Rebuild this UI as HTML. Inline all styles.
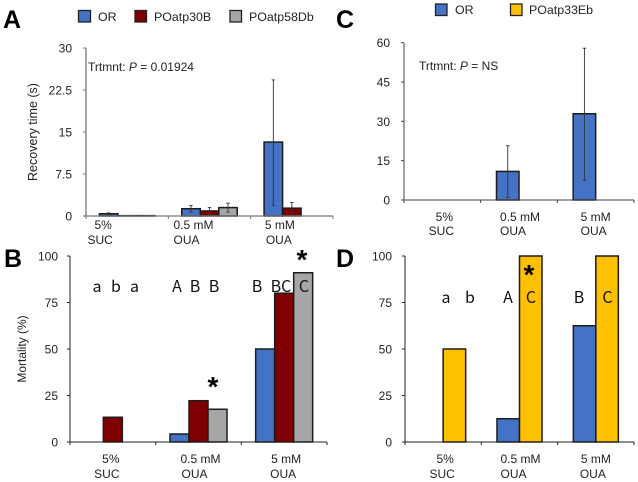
<!DOCTYPE html>
<html>
<head>
<meta charset="utf-8">
<style>
html,body{margin:0;padding:0;background:#fff}
svg{display:block;font-family:"Liberation Sans",Arial,sans-serif;fill:#222}
</style>
</head>
<body>
<svg id="fig" width="638" height="482" viewBox="0 0 638 482" xmlns="http://www.w3.org/2000/svg">
<rect x="0" y="0" width="638" height="482" fill="#fff" stroke="none"/>

<g font-weight="bold" font-size="25" fill="#000">
<text x="3" y="28">A</text>
<text x="4" y="267">B</text>
<text x="336" y="28">C</text>
<text x="336" y="267">D</text>
</g>

<g font-size="12.4">
<rect x="78.5" y="10.5" width="12" height="11.5" fill="#4472c4" stroke="#222" stroke-width="1.3"/>
<text x="98" y="21">OR</text>
<rect x="135" y="10.5" width="11.5" height="11.5" fill="#7f0000" stroke="#222" stroke-width="1.3"/>
<text x="154" y="21">POatp30B</text>
<rect x="230" y="10.5" width="11.5" height="11.5" fill="#a6a6a6" stroke="#222" stroke-width="1.3"/>
<text x="249" y="21">POatp58Db</text>
</g>
<g font-size="12.4">
<rect x="435.5" y="4" width="11.5" height="11.5" fill="#4472c4" stroke="#222" stroke-width="1.3"/>
<text x="455" y="14">OR</text>
<rect x="510.5" y="4" width="11.5" height="11.5" fill="#ffc000" stroke="#222" stroke-width="1.3"/>
<text x="529" y="14">POatp33Eb</text>
</g>

<text transform="translate(37,132) rotate(-90)" text-anchor="middle" font-size="12.5">Recovery time (s)</text>
<text transform="translate(26,349) rotate(-90)" text-anchor="middle" font-size="12">Mortality (%)</text>

<text x="88" y="71" font-size="12">Trtmnt: <tspan font-style="italic">P</tspan> = 0.01924</text>
<text x="419" y="70" font-size="12">Trtmnt: <tspan font-style="italic">P</tspan> = NS</text>

<g id="charts"></g>

<g font-family="'Noto Sans CJK JP','Liberation Sans',sans-serif" font-size="16" text-anchor="middle" fill="#111" id="letters">
<text x="97" y="292">a</text>
<text x="116" y="292">b</text>
<text x="134.5" y="292">a</text>
<text x="177" y="292">A</text>
<text x="195" y="292">B</text>
<text x="214" y="292">B</text>
<text x="257" y="292">B</text>
<text x="281" y="292">BC</text>
<text x="304" y="292">C</text>
<text x="446" y="303">a</text>
<text x="470" y="303">b</text>
<text x="508" y="303">A</text>
<text x="531" y="303">C</text>
<text x="579" y="303">B</text>
<text x="607.5" y="303">C</text>
</g>
<g font-weight="bold" font-size="28" text-anchor="middle" fill="#000">
<text x="213" y="396">*</text>
<text x="302" y="269">*</text>
<text x="529" y="284">*</text>
</g>
</svg>

<script>
// ---- data ----
const groupsTop = ["5%", "0.5 mM", "5 mM"];
const groupsBottom = ["SUC", "OUA", "OUA"];

const ticksRecoveryA = ["0", "7.5", "15", "22.5", "30"];
const ticksRecoveryC = ["0", "15", "30", "45", "60"];
const ticksMortality = ["0", "25", "50", "75", "100"];

const aOR = [0.4, 1.3, 13.2];
const aOatp30B = [0.06, 0.9, 1.4];
const aOatp58Db = [0.06, 1.5, 0];
const aORHigh = [0.55, 1.9, 24.3];
const aORLow = [0.25, 0.7, 1.9];
const a30BHigh = [0.08, 1.5, 2.4];
const a30BLow = [0.04, 0.3, 0.4];
const a58DbHigh = [0.08, 2.3, 0];
const a58DbLow = [0.04, 0.7, 0];

const cOR = [0, 10.9, 32.9];
const cOatp33Eb = [0, 0, 0];
const cORHigh = [0, 20.7, 57.9];
const cORLow = [0, 1, 7.5];

const bOR = [0, 4.3, 50];
const bOatp30B = [13.3, 22.2, 80];
const bOatp58Db = [0, 17.6, 91];

const dOR = [0, 12.5, 62.5];
const dOatp33Eb = [50, 100, 100];

// ---- drawing ----
const NS = "http://www.w3.org/2000/svg";
const root = document.getElementById("charts");
const BLUE = "#4472c4", RED = "#7f0000", GRAY = "#a6a6a6", YEL = "#ffc000";

function mk(tag, parent, attrs) {
  const el = document.createElementNS(NS, tag);
  for (const k in attrs) el.setAttribute(k, attrs[k]);
  parent.appendChild(el);
  return el;
}

function drawPanel(p) {
  const g = mk("g", root, {});
  
  
  const yMax = Number(p.ticks[p.ticks.length - 1]);
  const sy = v => p.y0 + (p.yTop - p.y0) * (v / yMax);
  const gw = (p.xEnd - p.x0) / p.top.length;
  const gx = i => p.x0 + gw * (i + 0.5);
  const bx = (i, s) => gx(i) + (s - p.series.length / 2) * p.barW;

  // bars
  p.series.forEach((ser, s) => {
    ser.values.forEach((v, i) => {
      if (v <= 0) return;
      const r = mk("rect", g, {x: bx(i, s), y: sy(v), width: p.barW, height: p.y0 - sy(v), fill: ser.color, stroke: "#1c1c1c", "stroke-width": 1.5});
      
      
    });
  });

  // error bars
  p.series.forEach((ser, s) => {
    if (!ser.high) return;
    ser.high.forEach((hi, i) => {
      if (hi <= 0) return;
      const cx = bx(i, s) + p.barW / 2;
      const eg = mk("g", g, {stroke: "#333", "stroke-width": 0.9});
      
      
      mk("line", eg, {x1: cx, x2: cx, y1: sy(hi), y2: sy(ser.low[i])});
      mk("line", eg, {x1: cx - 1.7, x2: cx + 1.7, y1: sy(hi), y2: sy(hi)});
      mk("line", eg, {x1: cx - 1.7, x2: cx + 1.7, y1: sy(ser.low[i]), y2: sy(ser.low[i])});
    });
  });

  // axes
  const yAxis = mk("line", g, {x1: p.x0, x2: p.x0, y1: p.yTop, y2: p.y0, stroke: p.axis, "stroke-width": p.axisW});
  
  
  const xAxis = mk("line", g, {x1: p.x0 - 3, x2: p.xEnd, y1: p.y0, y2: p.y0, stroke: p.axis, "stroke-width": p.axisW});
  
  

  // y ticks
  p.ticks.forEach(t => {
    const y = sy(Number(t));
    mk("line", g, {x1: p.x0 - 3, x2: p.x0, y1: y, y2: y, stroke: p.axis, "stroke-width": 1});
    const tx = mk("text", g, {x: p.tickEnd, y: y + 4.5, "text-anchor": "end", "font-size": 12});
    tx.textContent = t;
    
    
  });

  // x ticks and labels
  for (let i = 0; i <= p.top.length; i++) {
    const x = p.x0 + gw * i;
    mk("line", g, {x1: x, x2: x, y1: p.y0, y2: p.y0 + 3, stroke: p.axis, "stroke-width": 1});
  }
  p.top.forEach((t, i) => {
    const a = mk("text", g, {x: gx(i) + p.topDx[i], y: p.y0 + p.labelDy[0], "text-anchor": "middle", "font-size": 12});
    a.textContent = t;
    
    
    const b = mk("text", g, {x: gx(i) + p.botDx[i], y: p.y0 + p.labelDy[1], "text-anchor": "middle", "font-size": 12});
    b.textContent = p.bottom[i];
    
    
  });
}

drawPanel({
  id: "panel-a", x0: 86, xEnd: 333, y0: 216, yTop: 48, barW: 18.5, tickEnd: 72,
  axis: "#777", axisW: 1.3, ticks: ticksRecoveryA, top: groupsTop, bottom: groupsBottom,
  topDx: [-24, -16, -12], botDx: [-27, -23, -13], labelDy: [13, 28],
  series: [
    {color: BLUE, values: aOR, high: aORHigh, low: aORLow},
    {color: RED, values: aOatp30B, high: a30BHigh, low: a30BLow},
    {color: GRAY, values: aOatp58Db, high: a58DbHigh, low: a58DbLow}
  ]
});
drawPanel({
  id: "panel-c", x0: 404, xEnd: 634, y0: 200, yTop: 42.7, barW: 22.5, tickEnd: 390,
  axis: "#444", axisW: 1, ticks: ticksRecoveryC, top: groupsTop, bottom: groupsBottom,
  topDx: [2, 1, 0], botDx: [-1, -6, -2], labelDy: [21, 35],
  series: [
    {color: BLUE, values: cOR, high: cORHigh, low: cORLow},
    {color: YEL, values: cOatp33Eb}
  ]
});
drawPanel({
  id: "panel-b", x0: 70, xEnd: 327, y0: 442, yTop: 256, barW: 19, tickEnd: 58,
  axis: "#222", axisW: 1, ticks: ticksMortality, top: groupsTop, bottom: groupsBottom,
  topDx: [-2, 2, 2], botDx: [-6, -4, -1], labelDy: [21, 36],
  series: [
    {color: BLUE, values: bOR},
    {color: RED, values: bOatp30B},
    {color: GRAY, values: bOatp58Db}
  ]
});
drawPanel({
  id: "panel-d", x0: 405, xEnd: 634, y0: 442, yTop: 256, barW: 22.5, tickEnd: 392,
  axis: "#222", axisW: 1, ticks: ticksMortality, top: groupsTop, bottom: groupsBottom,
  topDx: [2, 1, 0], botDx: [-1, -6, -3], labelDy: [21, 36],
  series: [
    {color: BLUE, values: dOR},
    {color: YEL, values: dOatp33Eb}
  ]
});
</script>
</body>
</html>
